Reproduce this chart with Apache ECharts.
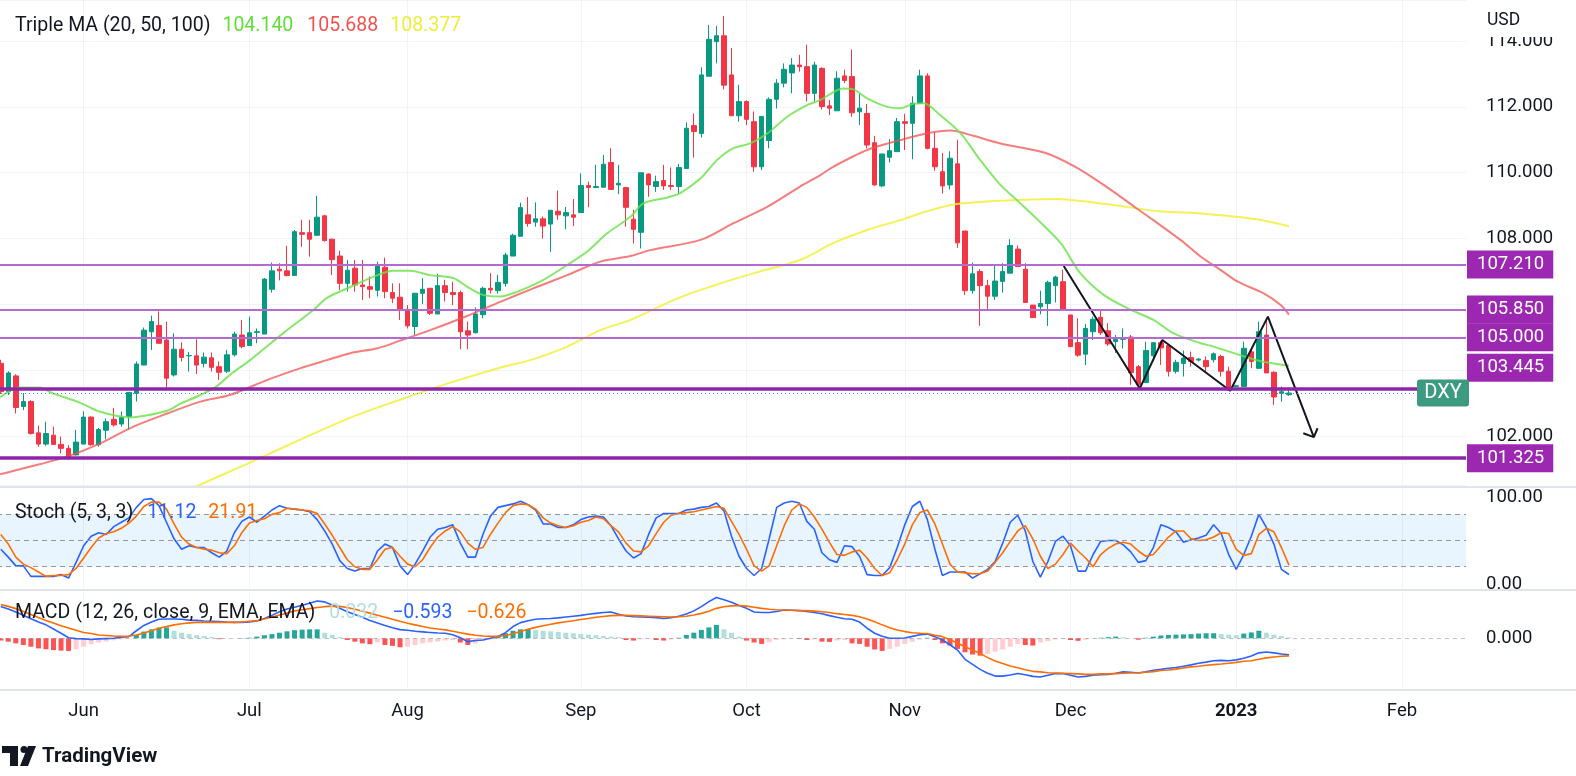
<!DOCTYPE html>
<html>
<head>
<meta charset="utf-8">
<title>DXY daily</title>
<script src="https://cdn.jsdelivr.net/npm/echarts@6/dist/echarts.min.js"></script>
<style>
  html, body { margin: 0; padding: 0; background: #ffffff; }
  #chart { width: 1576px; height: 776px; }
</style>
</head>
<body>
<div id="chart"></div>
<script>
// weekday categories start here
const startDay = '2022-05-17'
const dayCount = 195

// candles (one per weekday from startDay)
const opens = [104.21,103.35,103.83,102.9,103.05,102.1,101.76,102.03,101.75,101.63,
  101.43,101.76,102.58,101.74,102.18,102.51,102.37,102.6,103.3,104.16,
  105.17,105.36,104.92,103.86,104.64,104.44,104.44,104.21,104.38,104.11,
  103.97,104.47,105.07,104.75,105.15,105.1,106.46,107.07,107.02,106.88,
  108.18,108.18,108.1,108.69,107.98,107.47,106.64,107.1,106.59,106.54,
  106.43,107.13,106.36,106.22,105.85,105.33,106.34,106.49,105.71,106.57,
  106.36,106.36,105.2,105.14,105.69,106.49,106.42,106.64,107.47,108.07,
  108.72,108.5,108.6,108.44,108.83,108.69,108.72,108.79,109.61,109.55,
  109.56,110.31,109.63,109.55,108.59,108.19,109.96,109.58,109.76,109.61,
  109.58,110.13,111.43,111.19,112.93,113.98,114.16,112.97,111.73,112.16,
  111.55,110.18,110.98,112.23,112.72,113.03,113.27,113.22,112.41,113.17,
  112.03,111.88,112.94,112.92,111.85,111.8,110.91,109.6,110.47,110.64,
  111.55,111.5,112.11,112.94,110.74,110.03,109.63,110.27,108.23,106.42,
  107.0,106.57,106.25,106.7,106.95,107.68,107.07,105.98,105.93,106.03,
  106.57,106.69,105.68,104.84,104.49,105.17,105.61,105.2,104.87,104.94,
  105.01,104.11,103.63,104.44,104.84,104.75,103.97,104.21,104.39,104.31,
  104.3,104.32,104.42,103.97,103.51,103.51,104.56,104.06,105.07,103.94,
  103.3,103.26]
const closes = [103.35,103.92,102.87,103.05,102.08,101.76,102.08,101.75,101.63,101.34,
  101.82,102.58,101.74,102.2,102.44,102.34,102.57,103.33,104.19,105.22,
  105.48,104.82,103.76,104.64,104.39,104.45,104.16,104.4,104.09,103.94,
  104.47,105.1,104.72,105.14,105.17,106.77,107.02,107.02,106.88,108.21,
  108.13,107.98,108.65,107.94,107.36,106.64,107.04,106.59,106.54,106.46,
  107.17,106.39,106.19,105.83,105.35,106.34,106.46,105.73,106.57,106.36,
  106.3,105.17,105.07,105.71,106.49,106.44,106.67,107.5,108.1,108.94,
  108.46,108.6,108.38,108.86,108.72,108.79,108.65,109.61,109.55,109.58,
  110.26,109.49,109.68,108.95,108.28,110.0,109.63,109.73,109.6,109.58,
  110.16,111.35,111.25,112.97,114.05,114.16,112.66,111.73,112.16,111.62,
  110.18,111.71,112.23,112.72,113.14,113.27,113.22,112.41,113.27,112.01,
  111.96,112.87,112.8,111.82,111.96,110.84,109.63,110.57,110.67,111.55,
  111.5,112.11,112.94,110.74,110.18,109.6,110.44,107.87,106.42,106.93,
  106.57,106.25,106.71,107.0,107.79,107.15,106.06,105.6,106.03,106.67,
  106.83,105.85,104.72,104.46,105.27,105.55,105.14,104.8,104.94,104.99,
  103.93,103.56,104.6,104.84,104.68,103.97,104.24,104.37,104.27,104.34,
  104.11,104.5,103.97,103.4,103.53,104.67,104.27,105.17,103.92,103.19,
  103.35,103.31]
const highs = [104.32,103.97,103.88,103.31,103.09,102.32,102.44,102.29,101.99,101.73,
  102.19,102.75,102.6,102.25,102.54,102.86,102.75,103.33,104.27,105.3,
  105.66,105.79,105.48,105.12,104.85,104.56,104.94,104.54,104.54,104.27,
  104.62,105.17,105.53,105.63,105.27,106.8,107.27,107.25,107.78,108.26,
  108.57,108.57,109.3,108.72,108.0,107.63,107.35,107.35,107.35,106.85,
  107.3,107.42,106.64,106.64,105.98,106.34,106.8,106.49,106.93,106.75,
  106.69,106.42,105.48,105.91,106.54,106.95,106.9,107.57,108.15,109.09,
  109.26,109.1,108.67,108.86,109.46,108.96,109.2,109.98,109.73,110.24,
  110.54,110.74,110.24,109.57,108.87,110.0,109.98,109.91,110.24,110.16,
  110.27,111.53,111.8,113.2,114.49,114.46,114.76,113.79,112.67,112.2,
  111.86,111.71,112.29,112.84,113.32,113.48,113.58,113.89,113.37,113.2,
  112.21,113.08,113.13,113.74,112.41,112.09,111.12,110.57,111.02,111.66,
  111.79,112.32,113.13,113.02,111.22,110.6,110.65,111.0,108.23,107.27,
  107.07,106.75,107.22,107.25,107.98,107.79,107.25,105.98,106.42,106.72,
  106.87,107.06,105.68,105.58,105.41,105.63,105.84,105.43,105.07,105.27,
  105.07,104.16,104.87,104.84,104.9,104.75,104.32,104.6,104.57,104.37,
  104.42,104.54,104.47,104.11,103.56,104.87,104.62,105.48,105.53,103.97,
  103.51,103.4]
const lows = [103.28,103.25,102.69,102.79,102.05,101.68,101.71,101.73,101.48,101.28,
  101.41,101.76,101.71,101.68,101.9,102.29,102.29,102.19,103.05,104.16,
  104.62,104.82,103.48,103.81,104.27,103.96,103.89,104.09,103.96,103.71,
  103.92,104.42,104.67,104.75,104.82,105.1,106.36,106.73,106.85,106.88,
  107.75,107.45,108.1,107.91,106.89,106.44,106.39,106.39,106.14,106.19,
  106.24,106.19,106.04,105.53,105.27,105.07,106.02,105.68,105.71,106.09,
  105.98,104.64,104.64,105.12,105.58,106.33,106.33,106.54,107.47,108.07,
  108.36,108.36,108.0,107.6,108.57,108.28,108.38,108.79,108.95,109.53,
  109.56,109.49,109.35,108.36,107.85,107.7,109.27,109.42,109.48,109.48,
  109.37,110.13,110.46,111.07,112.93,113.32,112.53,111.73,111.55,111.45,
  110.03,110.08,110.74,111.95,112.59,112.41,113.07,112.16,112.16,111.92,
  111.75,111.88,112.72,111.7,111.45,110.74,109.6,109.56,110.31,110.64,
  110.69,110.41,112.11,110.71,110.06,109.37,109.49,107.72,106.29,106.33,
  105.35,105.85,106.14,106.36,106.95,107.15,106.06,105.6,105.7,105.35,
  106.06,105.83,104.7,104.41,104.16,104.92,105.07,104.74,104.53,104.66,
  103.56,103.45,103.61,104.27,104.16,103.81,103.9,103.81,104.11,104.27,
  103.92,104.24,103.81,103.4,103.48,103.51,104.06,104.06,103.92,102.95,
  103.05,103.22]

// moving averages: [bar index, value]
const ma20Pts = [[-0.1,103.18],[2.5,103.48],[5.2,103.48],[6.9,103.3],[10.5,103.02],[13.2,102.74],
  [17.2,102.57],[18.9,102.61],[22.1,102.77],[23.8,102.98],[26.5,103.25],[28.7,103.52],[30.4,103.86],
  [33.1,104.31],[37.5,105.13],[41.5,105.83],[43.3,106.2],[46.4,106.53],[50,106.89],[52.1,107.02],
  [54.3,107.02],[57,106.89],[60.1,106.8],[61.9,106.54],[64,106.29],[66.3,106.24],[68.6,106.39],
  [71.6,106.69],[75.2,107.2],[77.8,107.6],[80.5,108.16],[83.6,108.66],[85.3,109.07],[88.5,109.25],
  [90.2,109.38],[92.9,109.83],[95.1,110.39],[97.2,110.74],[99.5,110.89],[101.8,111.2],[104.4,111.7],
  [107.1,112.06],[108.8,112.21],[111.8,112.56],[113.2,112.53],[115,112.26],[117.7,112.0],[119.4,111.96],
  [121.1,112.09],[122.5,112.11],[124.7,111.75],[127.4,111.2],[130,110.39],[132.7,109.63],[135.2,109.1],
  [137.7,108.56],[140.7,107.86],[143.3,106.95],[146.4,106.29],[149.6,105.88],[153,105.53],[155.7,105.12],
  [159.3,104.82],[161,104.72],[165.5,104.39],[167.6,104.26],[171,104.14]]
const ma50Pts = [[-0.1,100.84],[2.1,100.97],[8.8,101.38],[13.2,101.78],[17.6,102.29],[22.1,102.69],
  [26.5,103.05],[30.4,103.25],[35.4,103.71],[39.7,104.06],[43.3,104.31],[46.4,104.52],[50,104.67],
  [53,104.9],[57,105.22],[61.9,105.65],[66.3,106.08],[70.7,106.49],[75.2,106.89],[79.6,107.3],
  [83.6,107.47],[86.2,107.65],[92.9,107.96],[97.2,108.46],[101.8,108.97],[106.1,109.58],[108.8,109.93],
  [110.5,110.18],[115,110.69],[119.4,110.99],[123,111.2],[126.1,111.28],[129.1,111.12],[132.7,110.89],
  [138.7,110.6],[142.7,110.17],[146.6,109.6],[150.7,108.93],[153,108.56],[156.6,107.96],[159.3,107.45],
  [161.9,107.05],[164.2,106.69],[167.6,106.34],[169.9,105.98],[171,105.688]]
const ma100Pts = [[25,100.35],[26.6,100.54],[33.3,101.22],[39.9,101.91],[46.6,102.58],[53.3,103.13],
  [59.9,103.64],[66.6,104.1],[70.3,104.31],[75.2,104.72],[79.6,105.22],[83.6,105.53],[90,106.2],
  [95,106.6],[100,106.95],[106.1,107.35],[110.5,107.86],[115,108.26],[119.4,108.56],[122.1,108.77],
  [126.1,109.02],[130.4,109.12],[132.7,109.15],[140,109.2],[146.7,109.05],[153.4,108.84],[160,108.75],
  [166.7,108.59],[171,108.377]]

// hand-drawn zigzag with arrow head
const zigzagPts = [[141.1,107.17],[151.2,103.45],[154.2,104.92],[163.2,103.38],[168.2,105.63],
  [174.3,101.97],[172.9,102.09],[174.3,101.97],[174.8,102.24]]

// horizontal levels
const levels = [107.21, 105.85, 105.0, 103.445, 101.325]
const thickLevels = [103.445, 101.325]

// Stoch (5, 3, 3)
const stochK = [40,31,21,21,9,9,9,9,11,7, 25,44,55,59,57,66,71,76,88,97,
  98,90,71,52,40,44,42,42,36,31, 38,59,72,77,71,78,85,90,87,86,
  85,83,74,61,46,27,18,15,18,18, 38,46,42,21,11,23,38,54,63,65,
  68,47,31,31,57,78,88,90,92,95, 91,85,69,69,65,65,68,74,77,78,
  77,67,52,38,30,35,57,76,81,81, 81,85,86,88,89,93,84,55,32,18,
  10,18,52,88, 93,95,93,72,63,36,
  28,25,44,43,32,11,10,10,19,42, 68,89,95,74,40,10,14,14,14,7,
  12,17,26,47,71,79,61,26,8,26, 49,55,44,15,15,34,49,50,50,45,
  37,25,27,42,68,65,60,48,51,53, 56,68,58,34,17,34,55,80,65,46,
  17,11.12]
const stochD = [57,46,31,23,19,14,9,10,10,11, 18,30,42,53,58,60,64,70,78,89,
  94,94,86,69,54,46,42,40,39,36, 35,44,59,70,73,75,80,82,87,86,
  85,84,81,69,56,42,28,20,17,17, 28,40,42,32,23,20,28,42,54,61,
  66,60,47,40,42,57,70,82,90,92, 91,86,76,70,67,65,67,71,73,77,
  75,67,60,47,38,37,44,58,71,79, 81,82,83,85,87,89,87,72,57,40,
  21,15,21,44, 67,85,92,88,77,63,
  48,34,33,37,39,30,18,10,13,28, 46,68,82,85,69,46,23,14,13,12,
  12,15,25,36,49,61,67,52,32,18, 23,34,47,38,30,20,34,41,46,48,
  46,38,32,34,44,54,61,61,52,50, 51,54,59,58,40,33,35,57,64,60,
  42,21.91]
const stochBands = [80, 50, 20]

// MACD (12, 26, close, 9)
const macdLine = [1.14,1.05,0.94,0.82,0.70,0.58,0.48,0.33,0.18,0.02,
  -0.01,-0.02,-0.04,-0.02,-0.01,0.0,0.04,0.06,0.27,0.46,
  0.58,0.68,0.69,0.69,0.68,0.65,0.64,0.62,0.61,0.6,
  0.58,0.57,0.57,0.58,0.62,0.71,0.82,0.95,1.05,1.11,
  1.18,1.25,1.33,1.3,1.19,1.07,0.95,0.85,0.75,0.64,
  0.55,0.46,0.38,0.31,0.29,0.25,0.23,0.21,0.19,0.18,
  0.13,0.02,-0.12,-0.08,-0.06,0.0,0.07,0.2,0.42,0.56,
  0.63,0.68,0.7,0.71,0.73,0.76,0.79,0.82,0.86,0.89,
  0.92,0.94,0.86,0.8,0.77,0.76,0.75,0.74,0.71,0.74,
  0.79,0.87,0.98,1.13,1.31,1.46,1.38,1.29,1.17,1.07,
  0.94,0.92,0.92,0.96, 1.01,1.0,0.99,0.96,0.92,0.88,
  0.81,0.75,0.7,0.68,0.58,0.36,0.18,0.07,0.0,0.0,
  0.01,0.07,0.13,0.15,0.06,-0.06,-0.23,-0.42,-0.75,-0.93,
  -1.11,-1.25,-1.35,-1.35,-1.31,-1.26,-1.3,-1.36,-1.38,-1.32,
  -1.26,-1.26,-1.32,-1.38,-1.36,-1.32,-1.3,-1.29,-1.25,-1.2,
  -1.21,-1.24,-1.2,-1.14,-1.11,-1.07,-1.04,-1.0,-0.95,-0.89,
  -0.85,-0.8,-0.79,-0.8,-0.77,-0.71,-0.63,-0.52,-0.49,-0.52,
  -0.56,-0.593]
const signalLine = [1.21,1.14,1.06,0.96,0.85,0.74,0.64,0.55,0.45,0.37,
  0.29,0.21,0.17,0.12,0.1,0.08,0.07,0.08,0.12,0.19,
  0.27,0.36,0.42,0.48,0.52,0.55,0.57,0.57,0.57,0.57,
  0.57,0.57,0.58,0.61,0.63,0.69,0.76,0.83,0.9,0.98,
  1.02,1.06,1.1,1.13,1.15,1.14,1.1,1.04,0.97,0.9,
  0.82,0.75,0.68,0.61,0.54,0.48,0.42,0.37,0.33,0.3,
  0.25,0.2,0.15,0.11,0.08,0.07,0.07,0.1,0.16,0.24,
  0.32,0.39,0.45,0.5,0.55,0.59,0.63,0.67,0.71,0.75,
  0.78,0.81,0.82,0.82,0.81,0.8,0.79,0.78,0.77,0.76,
  0.77,0.79,0.83,0.89,0.97,1.07,1.13,1.16,1.17,1.15,
  1.11,1.07,1.04,1.02, 1.01,1.0,0.99,0.99,0.97,0.95,
  0.92,0.88,0.85,0.82,0.77,0.69,0.59,0.48,0.38,0.3,
  0.24,0.2,0.18,0.17,0.11,0.06,-0.05,-0.17,-0.3,-0.42,
  -0.54,-0.69,-0.81,-0.9,-0.99,-1.05,-1.12,-1.18,-1.2,-1.23,
  -1.24,-1.25,-1.26,-1.27,-1.29,-1.29,-1.27,-1.27,-1.26,-1.25,
  -1.24,-1.23,-1.21,-1.19,-1.15,-1.13,-1.1,-1.06,-1.02,-1.0,
  -0.96,-0.94,-0.92,-0.89,-0.86,-0.82,-0.8,-0.75,-0.7,-0.67,
  -0.64,-0.626]
const macdHist = [-0.08,-0.12,-0.18,-0.24,-0.3,-0.36,-0.39,-0.42,-0.44,-0.45,
  -0.39,-0.3,-0.21,-0.15,-0.11,-0.07,-0.04,-0.01,0.12,0.24,
  0.32,0.38,0.39,0.27,0.2,0.15,0.11,0.08,0.05,-0.03,
  -0.01,0.0,0.01,0.02,0.06,0.11,0.15,0.2,0.25,0.29,
  0.31,0.32,0.32,0.2,0.12,0.04,-0.06,-0.12,-0.18,-0.21,
  -0.15,-0.24,-0.27,-0.32,-0.3,-0.24,-0.18,-0.15,-0.12,-0.08,
  -0.06,-0.15,-0.24,-0.18,-0.08,-0.04,0.06,0.18,0.27,0.32,
  0.33,0.3,0.27,0.25,0.23,0.2,0.18,0.15,0.13,0.11,
  0.08,0.06,0.04,-0.06,-0.08,-0.04,-0.02,-0.06,-0.08,-0.04,
  0.02,0.12,0.2,0.3,0.39,0.48,0.32,0.2,0.06,-0.08,
  -0.15,-0.2,-0.14,-0.06, -0.04,-0.01,-0.02,-0.06,-0.04,-0.12,
  -0.13,-0.08,-0.06,-0.18,-0.2,-0.3,-0.4,-0.45,-0.38,-0.3,
  -0.2,-0.12,-0.05,0.02,-0.06,-0.18,-0.26,-0.38,-0.5,-0.58,
  -0.62,-0.56,-0.48,-0.4,-0.3,-0.2,-0.24,-0.26,-0.15,-0.1,
  -0.04,-0.02,-0.06,-0.09,-0.05,-0.02,0.02,0.04,0.06,0.04,
  0.01,-0.05,0.02,0.06,0.1,0.12,0.13,0.14,0.15,0.17,
  0.18,0.18,0.15,0.13,0.11,0.17,0.21,0.27,0.2,0.13,
  0.08,0.032]

const monthNames = ['Jan','Feb','Mar','Apr','May','Jun','Jul','Aug','Sep','Oct','Nov','Dec']

// build weekday list
const dates = []
{
  const d = new Date(startDay + 'T00:00:00Z')
  while (dates.length < dayCount) {
    const wd = d.getUTCDay()
    if (wd !== 0 && wd !== 6) dates.push(d.toISOString().slice(0, 10))
    d.setUTCDate(d.getUTCDate() + 1)
  }
}
const isMonthStart = (i) => i > 0 && dates[i].slice(5, 7) !== dates[i - 1].slice(5, 7)
const monthLabel = (v) => {
  const m = +v.slice(5, 7) - 1
  return m === 0 ? '{b|' + v.slice(0, 4) + '}' : monthNames[m]
}

const FONT = "Roboto, 'Liberation Sans', Arial, sans-serif"
const TXT = '#131722'
const UP = '#089981'
const DOWN = '#f23645'
const GRID_LINE = '#f0f3fa'
const PURPLE = '#9c27b0'
const BLUE = '#2962ff'
const ORANGE = '#ff6d00'
const MA_GREEN = 'rgba(105,225,70,0.8)'
const MA_RED = 'rgba(239,83,80,0.75)'
const MA_YELLOW = 'rgba(242,238,60,0.85)'
const LEGEND_SIZE = 19.5
const AXIS_SIZE = 18.5

const gridL = -3
const gridW = 1469
const xMin = -0.5
const xMax = dayCount - 0.5

const candleData = opens.map((o, i) => [o, closes[i], lows[i], highs[i]])
const lastClose = closes[closes.length - 1]

const chart = echarts.init(document.getElementById('chart'))

const catAxis = (gridIndex, showLabel) => ({
  type: 'category',
  gridIndex,
  data: dates,
  boundaryGap: true,
  axisLine: { show: false },
  axisTick: { show: false },
  axisLabel: {
    show: showLabel,
    interval: (idx) => isMonthStart(idx),
    formatter: monthLabel,
    color: TXT,
    fontSize: AXIS_SIZE,
    fontFamily: FONT,
    margin: 14,
    rich: { b: { fontWeight: 'bold', fontSize: AXIS_SIZE, fontFamily: FONT, color: TXT } }
  },
  splitLine: {
    show: true,
    alignWithLabel: true,
    interval: (idx) => isMonthStart(idx),
    lineStyle: { color: GRID_LINE, width: 1 }
  }
})

const levelMarks = levels.map(v => {
  const thick = thickLevels.includes(v)
  return {
    yAxis: v,
    lineStyle: { color: thick ? '#8e24aa' : '#b46bd0', width: thick ? 3.5 : 1.8, type: 'solid' },
    label: {
      show: true,
      position: 'end',
      distance: 1,
      formatter: () => v.toFixed(3),
      color: '#ffffff',
      backgroundColor: PURPLE,
      padding: [5, 9, 4, 10],
      fontSize: AXIS_SIZE,
      fontFamily: FONT,
      offset: v === 103.445 ? [0, -21] : [0, 0]
    }
  }
})

const priceAxisLabel = (formatter) => ({
  color: TXT, fontSize: AXIS_SIZE, fontFamily: FONT, margin: 20,
  showMinLabel: false, showMaxLabel: false, formatter
})

const option = {
  animation: false,
  backgroundColor: '#ffffff',
  textStyle: { fontFamily: FONT },
  grid: [
    { left: gridL, width: gridW, top: 0, height: 485, outerBoundsMode: 'none' },
    { left: gridL, width: gridW, top: 488, height: 100, outerBoundsMode: 'none' },
    { left: gridL, width: gridW, top: 592, height: 96, outerBoundsMode: 'none' }
  ],
  xAxis: [
    catAxis(0, false),
    { type: 'value', gridIndex: 0, min: xMin, max: xMax, show: false },
    catAxis(1, false),
    catAxis(2, true)
  ],
  yAxis: [
    {
      type: 'value', gridIndex: 0, position: 'right', min: 100.517, max: 115.245, splitNumber: 7,
      axisLine: { show: false }, axisTick: { show: false },
      axisLabel: priceAxisLabel((v) => (v === 104 || v === 106) ? '' : v.toFixed(3)),
      splitLine: { show: true, lineStyle: { color: GRID_LINE, width: 1 } }
    },
    {
      type: 'value', gridIndex: 1, position: 'right', min: -4.35, max: 110.2, splitNumber: 5,
      axisLine: { show: false }, axisTick: { show: false },
      axisLabel: priceAxisLabel((v) => (v === 0 || v === 100) ? v.toFixed(2) : ''),
      splitLine: { show: false }
    },
    {
      type: 'value', gridIndex: 2, position: 'right', min: -1.775, max: 1.654, splitNumber: 3,
      axisLine: { show: false }, axisTick: { show: false },
      axisLabel: priceAxisLabel((v) => v === 0 ? '0.000' : ''),
      splitLine: { show: false }
    }
  ],
  series: [
    {
      name: 'DXY',
      type: 'candlestick',
      xAxisIndex: 0,
      yAxisIndex: 0,
      data: candleData,
      barWidth: 5,
      itemStyle: { color: UP, color0: DOWN, borderColor: UP, borderColor0: DOWN, borderWidth: 1 },
      markLine: {
        silent: true,
        symbol: ['none', 'none'],
        animation: false,
        data: [
          {
            yAxis: lastClose,
            lineStyle: { color: '#26a69a', width: 1, type: [1, 3] },
            label: { show: false }
          }
        ].concat(levelMarks)
      },
      z: 2
    },
    {
      name: 'MA100', type: 'line', xAxisIndex: 1, yAxisIndex: 0, data: ma100Pts,
      showSymbol: false, smooth: 0.3, lineStyle: { color: MA_YELLOW, width: 2 }, z: 3
    },
    {
      name: 'MA50', type: 'line', xAxisIndex: 1, yAxisIndex: 0, data: ma50Pts,
      showSymbol: false, smooth: 0.3, lineStyle: { color: MA_RED, width: 2 }, z: 3
    },
    {
      name: 'MA20', type: 'line', xAxisIndex: 1, yAxisIndex: 0, data: ma20Pts,
      showSymbol: false, smooth: 0.3, lineStyle: { color: MA_GREEN, width: 2 }, z: 3
    },
    {
      name: 'zigzag', type: 'line', xAxisIndex: 1, yAxisIndex: 0, data: zigzagPts,
      showSymbol: false, lineStyle: { color: '#131722', width: 2 }, z: 4
    },
    {
      name: '%K', type: 'line', xAxisIndex: 2, yAxisIndex: 1, data: stochK,
      showSymbol: false, lineStyle: { color: BLUE, width: 1.6 }, z: 3,
      markArea: {
        silent: true,
        itemStyle: { color: 'rgba(33,150,243,0.1)' },
        data: [[{ yAxis: stochBands[2] }, { yAxis: stochBands[0] }]]
      },
      markLine: {
        silent: true,
        symbol: ['none', 'none'],
        label: { show: false },
        lineStyle: { color: '#9598a1', width: 1, type: [5, 4] },
        data: stochBands.map(v => ({ yAxis: v }))
      }
    },
    {
      name: '%D', type: 'line', xAxisIndex: 2, yAxisIndex: 1, data: stochD,
      showSymbol: false, lineStyle: { color: ORANGE, width: 1.6 }, z: 3
    },
    {
      name: 'Histogram', type: 'bar', xAxisIndex: 3, yAxisIndex: 2, data: macdHist,
      barWidth: 5,
      itemStyle: {
        color: (p) => {
          const i = p.dataIndex
          const v = macdHist[i]
          const prev = i > 0 ? macdHist[i - 1] : v
          if (v >= 0) return v >= prev ? '#26a69a' : '#b2dfdb'
          return v <= prev ? '#ff5252' : '#ffcdd2'
        }
      },
      markLine: {
        silent: true,
        symbol: ['none', 'none'],
        label: { show: false },
        lineStyle: { color: 'rgba(120,123,134,0.45)', width: 1, type: [4, 4] },
        data: [{ yAxis: 0 }]
      },
      z: 2
    },
    {
      name: 'MACD', type: 'line', xAxisIndex: 3, yAxisIndex: 2, data: macdLine,
      showSymbol: false, lineStyle: { color: BLUE, width: 1.6 }, z: 3
    },
    {
      name: 'Signal', type: 'line', xAxisIndex: 3, yAxisIndex: 2, data: signalLine,
      showSymbol: false, lineStyle: { color: ORANGE, width: 1.6 }, z: 3
    }
  ]
}

chart.setOption(option)

// legends and decorations
const last = (arr) => arr[arr.length - 1]
const lastMA = (pts) => pts[pts.length - 1][1]
const priceY = chart.convertToPixel({ xAxisIndex: 0, yAxisIndex: 0 }, [dates[0], lastClose])[1]

const textEl = (x, y, text, rich, extra) => ({
  type: 'text', x, y, silent: true, z: 100,
  style: Object.assign({
    text, fill: TXT, fontSize: LEGEND_SIZE, fontFamily: FONT, verticalAlign: 'middle', align: 'left', rich
  }, extra || {})
})
const richPart = (fill, pad) => ({ fill, fontSize: LEGEND_SIZE, fontFamily: FONT, padding: [0, 0, 0, pad] })

const sepLine = (y) => ({
  type: 'line', silent: true, z: 90,
  shape: { x1: 0, y1: y, x2: 1576, y2: y },
  style: { stroke: '#e0e3eb', lineWidth: 2 }
})

chart.setOption({
  graphic: [
    sepLine(487),
    sepLine(590),
    sepLine(690),
    textEl(15, 26,
      'Triple MA (20, 50, 100){g|' + lastMA(ma20Pts).toFixed(3) + '}{r|' + lastMA(ma50Pts).toFixed(3) + '}{y|' + lastMA(ma100Pts).toFixed(3) + '}',
      { g: richPart('#5fdf3a', 12), r: richPart('#ef5350', 14), y: richPart('#eded3a', 12) }),
    textEl(15, 513,
      'Stoch (5, 3, 3){k|' + last(stochK).toFixed(2) + '}{d|' + last(stochD).toFixed(2) + '}',
      { k: richPart(BLUE, 14), d: richPart(ORANGE, 12) }),
    textEl(15, 613,
      'MACD (12, 26, close, 9, EMA, EMA){h|' + last(macdHist).toFixed(3) + '}{m|' + last(macdLine).toFixed(3).replace('-', '\u2212') + '}{s|' + last(signalLine).toFixed(3).replace('-', '\u2212') + '}',
      { h: richPart('#b2dfdb', 14), m: richPart(BLUE, 14), s: richPart(ORANGE, 14) }),
    // currency caption box over the top of the price scale
    {
      type: 'rect', silent: true, z: 95,
      shape: { x: 1467, y: 0, width: 109, height: 37 },
      style: { fill: '#ffffff' }
    },
    textEl(1487, 21, 'USD', null, { fontSize: 17.5, z: 100 }),
    // symbol label on the price line
    {
      type: 'rect', silent: true, z: 95,
      shape: { x: 1417, y: priceY - 13.5, width: 52, height: 27, r: 3 },
      style: { fill: '#3b9a7f' }
    },
    textEl(1443, priceY, 'DXY', null, { fill: '#ffffff', fontSize: 20, align: 'center' }),
    // TradingView mark
    {
      type: 'group', silent: true, z: 100,
      children: [
        { type: 'rect', shape: { x: 2, y: 746, width: 16, height: 7 }, style: { fill: TXT } },
        { type: 'rect', shape: { x: 10, y: 746, width: 8, height: 20 }, style: { fill: TXT } },
        { type: 'circle', shape: { cx: 24, cy: 749.5, r: 3.5 }, style: { fill: TXT } },
        { type: 'polygon', shape: { points: [[28, 746], [36, 746], [28, 766], [20, 766]] }, style: { fill: TXT } }
      ]
    },
    textEl(42, 757, 'TradingView', null, { fontSize: 20.5, fontWeight: 'bold' })
  ]
})
</script>
</body>
</html>
